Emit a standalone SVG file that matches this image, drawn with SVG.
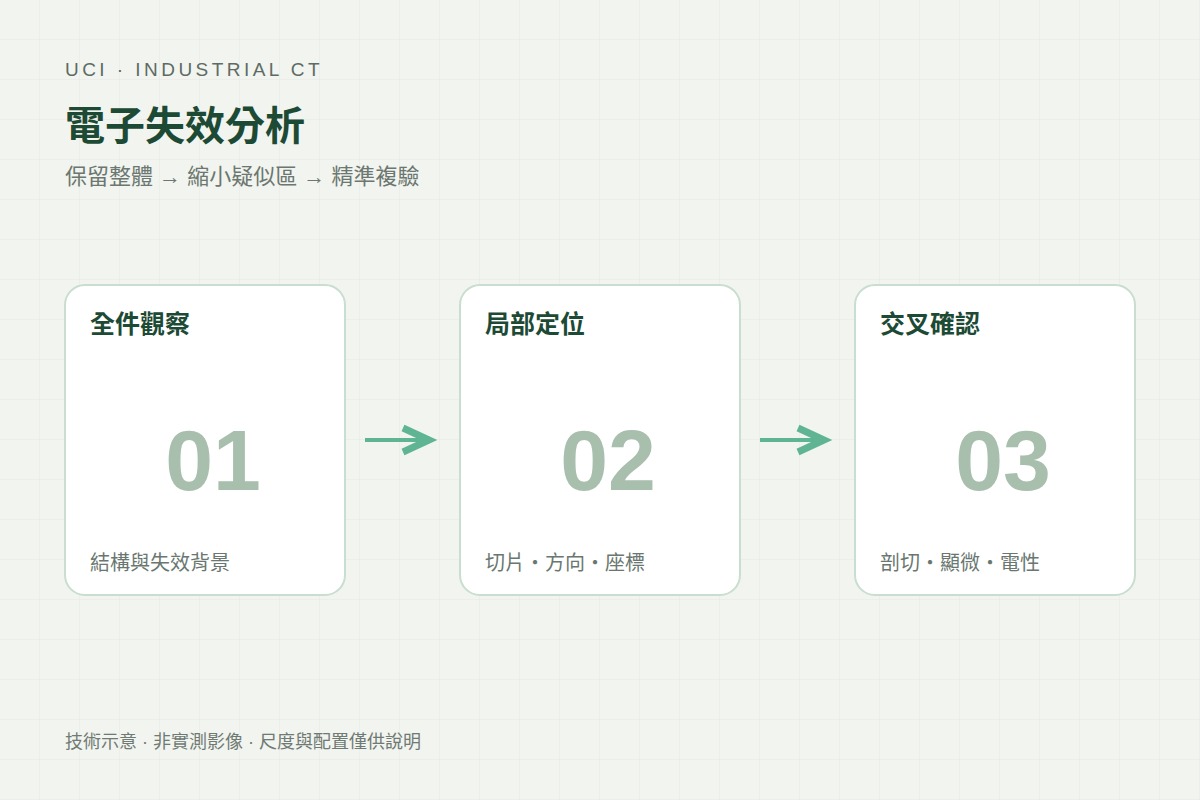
<svg xmlns="http://www.w3.org/2000/svg" width="1200" height="800" viewBox="0 0 1200 800">
<defs>
<pattern id="grid" width="40" height="40" patternUnits="userSpaceOnUse">
<path d="M40 0 V40 M0 40 H40" fill="none" stroke="#e4e9e2" stroke-width="1"/>
</pattern>
<style>
.cjk{font-family:"Liberation Sans","Noto Sans CJK TC",sans-serif}
.card{fill:#ffffff;stroke:#c9ddd1;stroke-width:2}
.ct{font-size:25px;font-weight:700;fill:#1d4a35}
.num{font-family:"Liberation Sans",Arial,sans-serif;font-size:86px;font-weight:700;fill:#a8bfae;text-anchor:middle}
.sub{font-size:20px;fill:#6a7770}
.conn line{stroke:#5fb494;stroke-width:4}
.conn polyline{fill:none;stroke:#5fb494;stroke-width:7;stroke-linejoin:miter;stroke-miterlimit:10}
</style>
</defs>
<rect width="1200" height="800" fill="#f2f4ef"/>
<rect width="1200" height="800" fill="url(#grid)"/>
<g id="header" class="cjk">
<text x="65" y="76" font-size="19" letter-spacing="3.45" fill="#5d6b64">UCI · INDUSTRIAL CT</text>
<text x="65" y="140" font-size="40" font-weight="700" fill="#1d4a35">電子失效分析</text>
<text x="65" y="184" font-size="22" fill="#6b7770">保留整體 → 縮小疑似區 → 精準複驗</text>
</g>
<g id="node1" class="cjk">
<rect class="card" x="65" y="285" width="280" height="310" rx="20"/>
<text class="ct" x="90" y="333">全件觀察</text>
<text class="num" x="213" y="490">01</text>
<text class="sub" x="90" y="570">結構與失效背景</text>
</g>
<g id="node2" class="cjk">
<rect class="card" x="460" y="285" width="280" height="310" rx="20"/>
<text class="ct" x="485" y="333">局部定位</text>
<text class="num" x="608" y="490">02</text>
<text class="sub" x="485" y="570">切片・方向・座標</text>
</g>
<g id="node3" class="cjk">
<rect class="card" x="855" y="285" width="280" height="310" rx="20"/>
<text class="ct" x="880" y="333">交叉確認</text>
<text class="num" x="1003" y="490">03</text>
<text class="sub" x="880" y="570">剖切・顯微・電性</text>
</g>
<g id="connectors" class="conn">
<line x1="365" y1="440" x2="428" y2="440"/>
<polyline points="403,428 429,440 403,452"/>
<line x1="760" y1="440" x2="823" y2="440"/>
<polyline points="798,428 824,440 798,452"/>
</g>
<g id="footer" class="cjk">
<text x="65" y="748" font-size="18" fill="#6f7a74">技術示意 · 非實測影像 · 尺度與配置僅供說明</text>
</g>
</svg>
